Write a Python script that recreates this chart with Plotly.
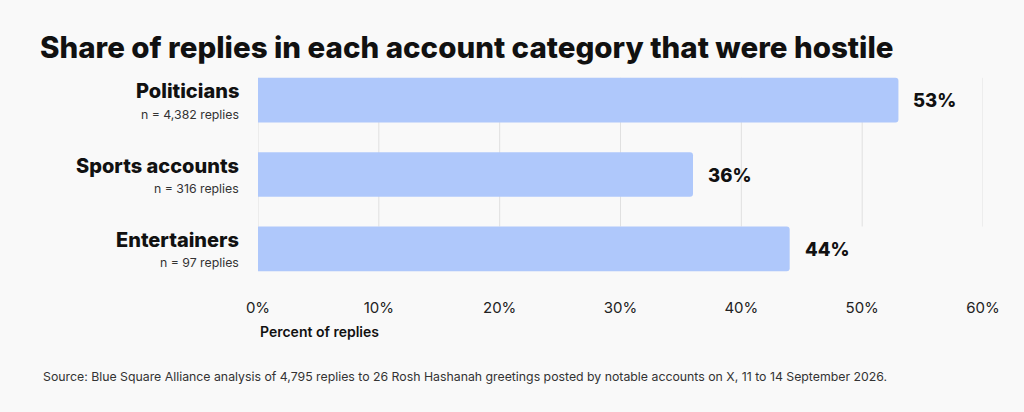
import plotly.graph_objects as go

categories = ["Politicians", "Sports accounts", "Entertainers"]
sample_notes = ["n = 4,382 replies", "n = 316 replies", "n = 97 replies"]
hostile_pct = [53, 36, 44]
tick_vals = [0, 10, 20, 30, 40, 50, 60]
tick_text = ["0%", "10%", "20%", "30%", "40%", "50%", "60%"]

title_text = "Share of replies in each account category that were hostile"
source_text = ("Source: Blue Square Alliance analysis of 4,795 replies to 26 Rosh Hashanah "
               "greetings posted by notable accounts on X, 11 to 14 September 2026.")

bg = "#f9f9f9"
bar_col = "#afc8fb"
font_main = "Inter"

fig = go.Figure()
fig.add_trace(go.Bar(
    x=hostile_pct,
    y=categories,
    orientation="h",
    width=0.6,
    marker=dict(color=bar_col, line=dict(width=0)),
    hoverinfo="skip",
))

# value labels just past the bar ends
for cat, v in zip(categories, hostile_pct):
    fig.add_annotation(xref="x", yref="y", x=v, y=cat, xshift=13, text=f"{v}%",
                       showarrow=False, xanchor="left", yanchor="middle",
                       font=dict(family=font_main, size=18.5, color="#111111", weight=800))

# gridlines only span the band behind the bars (top of first bar to top of last)
for v in tick_vals:
    fig.add_shape(type="line", xref="x", yref="y",
                  x0=v, x1=v, y0=-0.3, y1=len(categories) - 1 - 0.3,
                  line=dict(color="#e0e0e0", width=1), layer="below")

# category labels with sample size underneath
for cat, note in zip(categories, sample_notes):
    fig.add_annotation(xref="paper", yref="y", x=0, y=cat, xshift=-17, yshift=9,
                       text=cat, showarrow=False, xanchor="right", yanchor="middle",
                       font=dict(family=font_main, size=20, color="#111111", weight=800))
    fig.add_annotation(xref="paper", yref="y", x=0, y=cat, xshift=-17, yshift=-14,
                       text=note, showarrow=False, xanchor="right", yanchor="middle",
                       font=dict(family=font_main, size=12.3, color="#333333"))

fig.add_annotation(xref="paper", yref="paper", x=0, y=-0.206, text="Percent of replies",
                   showarrow=False, xanchor="left", yanchor="middle",
                   font=dict(family=font_main, size=14, color="#111111", weight=600))

fig.add_annotation(xref="paper", yref="paper", x=-0.3, y=-0.404, text=source_text,
                   showarrow=False, xanchor="left", yanchor="middle",
                   font=dict(family=font_main, size=12.3, color="#333333"))

fig.update_layout(
    width=1024, height=412,
    paper_bgcolor=bg, plot_bgcolor=bg,
    margin=dict(l=258, r=41, t=63, b=126),
    barcornerradius=3,
    showlegend=False,
    title=dict(text=title_text, x=40 / 1024, xanchor="left", y=1 - 48 / 412, yanchor="middle",
               font=dict(family=font_main, size=29.5, color="#111111", weight=800)),
    xaxis=dict(range=[0, 60], tickvals=tick_vals, ticktext=tick_text, showgrid=False,
               zeroline=False, showline=False, ticks="outside", ticklen=8, tickcolor=bg,
               tickfont=dict(family=font_main, size=15, color="#222222"),
               fixedrange=True),
    yaxis=dict(autorange="reversed", showticklabels=False, showgrid=False,
               zeroline=False, showline=False, fixedrange=True),
)

fig.write_html("out.html", config={"displayModeBar": False},
               post_script="document.body.style.margin='0';")
